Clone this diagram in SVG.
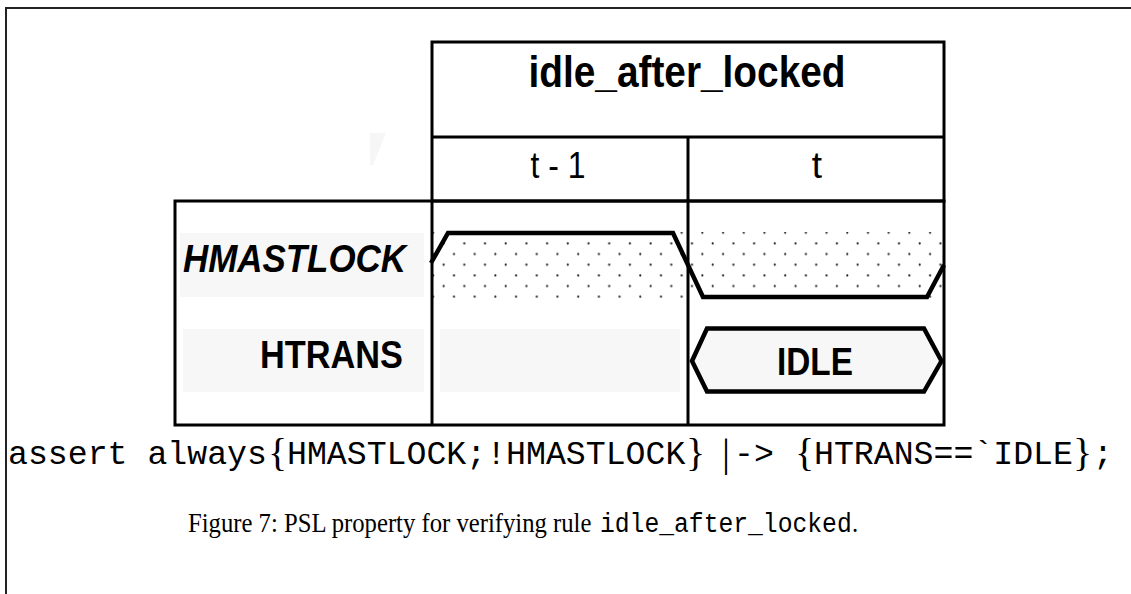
<svg xmlns="http://www.w3.org/2000/svg" width="1131" height="594" viewBox="0 0 1131 594">
  <style>
    .frame { fill: none; stroke: #222; stroke-width: 2; }
    .grid { fill: none; stroke: #000; stroke-width: 3; }
    .wave { fill: none; stroke: #000; stroke-width: 4.5; stroke-linejoin: miter; }
    .bg { fill: #f7f7f7; }
    .lbl { font-family: "Liberation Sans", Arial, sans-serif; fill: #000; }
    .code { font-family: "Liberation Mono", "Courier New", monospace; font-size: 33.2px; fill: #000; }
    .math { font-family: "Liberation Serif", "Times New Roman", serif; font-size: 40px; fill: #000; }
    .cap { font-family: "Liberation Serif", "Times New Roman", serif; font-size: 28px; fill: #000; }
    .capcode { font-family: "Liberation Mono", "Courier New", monospace; font-size: 28px; fill: #000; }
  </style>
  <defs>
    <pattern id="dots" patternUnits="userSpaceOnUse" x="428.1" y="227.4" width="20.7" height="21.34">
      <circle cx="5.17" cy="5.33" r="1.1" fill="#222"/>
      <circle cx="15.52" cy="16" r="1.1" fill="#222"/>
    </pattern>
  </defs>

  <rect width="1131" height="594" fill="#fff"/>

  <!-- page frame -->
  <path class="frame" d="M6,594 V8 H1131"/>

  <!-- faint mark left of the header -->
  <polygon points="370,133 386,133 373,165 370,165" fill="#f6f6f6"/>

  <!-- header -->
  <g id="header">
    <rect class="grid" x="432" y="42" width="512" height="159"/>
    <line class="grid" x1="432" y1="137" x2="944" y2="137"/>
    <text class="lbl" x="687" y="87" font-size="44" font-weight="bold" text-anchor="middle" textLength="317" lengthAdjust="spacingAndGlyphs">idle_after_locked</text>
    <text class="lbl" x="558" y="178" font-size="37" text-anchor="middle" textLength="55" lengthAdjust="spacingAndGlyphs">t - 1</text>
    <text class="lbl" x="817" y="178" font-size="37" text-anchor="middle">t</text>
  </g>

  <!-- signal table -->
  <g id="table">
    <rect class="grid" x="175" y="201" width="769" height="224"/>
    <line class="grid" x1="432" y1="201" x2="432" y2="425"/>
    <line class="grid" x1="688" y1="137" x2="688" y2="425"/>
  </g>

  <!-- HMASTLOCK row -->
  <g id="hmastlock">
    <rect class="bg" x="180" y="233" width="244" height="64"/>
    <text class="lbl" x="183" y="272" font-size="39" font-weight="bold" font-style="italic" textLength="223" lengthAdjust="spacingAndGlyphs">HMASTLOCK</text>
    <rect x="433" y="232" width="511" height="66" fill="url(#dots)"/>
    <path class="wave" d="M431,263 L448,233 L673,233 L703,297 L927,297 L944,265"/>
  </g>

  <!-- HTRANS row -->
  <g id="htrans">
    <rect class="bg" x="183" y="329" width="241" height="63"/>
    <text class="lbl" x="260" y="368" font-size="39" font-weight="bold" textLength="143" lengthAdjust="spacingAndGlyphs">HTRANS</text>
    <rect class="bg" x="440" y="329" width="240" height="63"/>
    <polygon class="bg" points="692,361 707,328.5 924,328.5 941.5,361 924,391.5 707,391.5" stroke="#000" stroke-width="4.5"/>
    <text class="lbl" x="815" y="375" font-size="39" font-weight="bold" text-anchor="middle" textLength="76" lengthAdjust="spacingAndGlyphs">IDLE</text>
  </g>

  <!-- PSL assertion -->
  <g id="assertion">
    <text class="code" x="8" y="464">assert always</text>
    <text class="math" x="268" y="466">{</text>
    <text class="code" x="287" y="464">HMASTLOCK;!HMASTLOCK</text>
    <text class="math" x="686" y="466">}</text>
    <text class="math" x="722" y="466">|</text>
    <text class="code" x="734" y="464">-&gt;</text>
    <text class="math" x="795" y="466">{</text>
    <text class="code" x="814" y="464">HTRANS==`IDLE</text>
    <text class="math" x="1073" y="466">}</text>
    <text class="code" x="1093" y="464">;</text>
  </g>

  <!-- caption, set slightly condensed -->
  <g id="caption">
    <text class="cap" transform="translate(188,532) scale(0.882,1)">Figure 7: PSL property for verifying rule</text>
    <text class="capcode" transform="translate(600,532) scale(0.882,1)">idle_after_locked</text>
    <text class="cap" transform="translate(852,532) scale(0.882,1)">.</text>
  </g>
</svg>
